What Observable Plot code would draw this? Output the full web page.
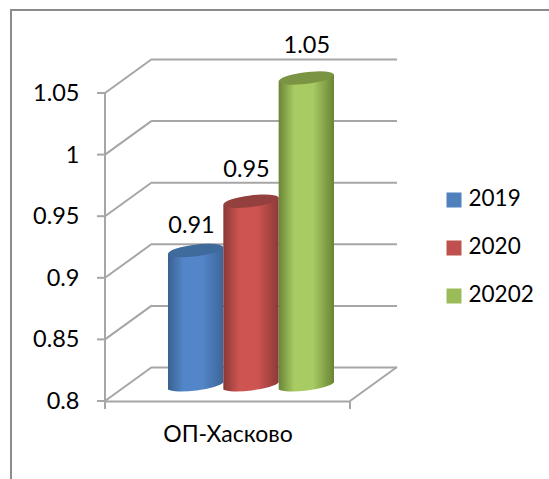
<!DOCTYPE html>
<html><head><meta charset="utf-8">
<script src="https://cdn.jsdelivr.net/npm/d3@7"></script>
<script src="https://cdn.jsdelivr.net/npm/@observablehq/plot@0.6"></script>
<style>
html,body{margin:0;padding:0;background:#fff}
#wrap{position:relative;width:549px;height:479px;overflow:hidden}
#border{position:absolute;left:10px;top:9px;width:600px;height:520px;border:2px solid #8c8c8c;box-sizing:border-box}
#chart{position:absolute;left:0;top:0}
</style></head><body>
<div id="wrap"><div id="border"></div><div id="chart"></div></div>
<script>
const category = "ОП-Хасково";
const years = ["2019","2020","20202"];
const values = [0.91,0.95,1.05];
const tickValues = [0.8,0.85,0.9,0.95,1,1.05];
const tickLabels = ["0.8","0.85","0.9","0.95","1","1.05"];
const swatch = ["#4f81bd","#c0504d","#9bbb59"];
const bodyStops = [["#39618f","#5286c8","#3c6699"],["#8a3836","#cd5450","#8c3a38"],["#6a8436","#a8cb63","#6a8436"]];
const capFill = ["#3e6a9c","#94403e","#7a9443"];
const data = years.map((year,i)=>({year,value:values[i],i}));

const font = "Lato, Carlito, 'Open Sans', sans-serif";
const depthX = 47, depthY = -34, grey = "#a6a6a6";
const fs = 23.5;

function box(index, {y}, channels, {width, height, marginLeft, marginRight}) {
  const g = d3.create("svg:g").attr("stroke", grey).attr("stroke-width", 2).attr("fill", "none");
  const L = marginLeft, R = width - marginRight;
  const yb = y(0.8), yt = y(1.05);
  g.append("line").attr("x1",L).attr("x2",L).attr("y1",yt).attr("y2",yb+8);
  g.append("line").attr("x1",R).attr("x2",R).attr("y1",yb).attr("y2",yb+8);
  for (const t of tickValues) {
    g.append("line").attr("x1",L).attr("x2",L+depthX).attr("y1",y(t)).attr("y2",y(t)+depthY);
    g.append("line").attr("x1",L-8).attr("x2",L).attr("y1",y(t)).attr("y2",y(t));
  }
  g.append("line").attr("x1",R).attr("x2",R+depthX).attr("y1",yb).attr("y2",yb+depthY);
  return g.node();
}

function cylinders(index, scales, values, dims, context, next) {
  const g = next(index, scales, values, dims, context);
  const sel = d3.select(g);
  const defs = sel.append("defs");
  const tilt = 3.5, ry = 5.8, lift = 15;
  sel.selectAll("rect").each(function(_, k) {
    const r = d3.select(this);
    const i = index[k];
    const x = +r.attr("x"), w = +r.attr("width"), t = +r.attr("y") - lift, h = +r.attr("height");
    const id = "cyl"+i;
    const gr = defs.append("linearGradient").attr("id",id);
    [[0,0],[0.28,1],[0.62,1],[1,2]].forEach(([o,c])=>gr.append("stop").attr("offset",o).attr("stop-color",bodyStops[i][c]));
    const rx = w/2, b = t+h;
    const body = `M${x},${t+tilt}L${x},${b+tilt}A${rx+1},${ry} -7 0 0 ${x+w},${b-tilt}L${x+w},${t-tilt}Z`;
    const parent = d3.select(this.parentNode);
    parent.append("path").attr("d",body).attr("fill",`url(#${id})`);
    parent.append("ellipse").attr("cx",x+w/2).attr("cy",t).attr("rx",rx+0.2).attr("ry",ry)
      .attr("transform",`rotate(-7 ${x+w/2} ${t})`).attr("fill",capFill[i]);
    r.remove();
  });
  return g;
}

const chart = Plot.plot({
  width: 549, height: 479,
  marginLeft: 105, marginRight: 199, marginTop: 93, marginBottom: 78,
  style: {background:"transparent", fontFamily: font},
  x: {type:"band", domain: years, range:[168,334], padding:0, round:false, axis:null},
  y: {domain:[0.8,1.05], range:[401,93]},
  marks: [
    Plot.ruleY(tickValues, {dx:depthX, dy:depthY, stroke:grey, strokeWidth:2}),
    Plot.ruleY([0.8], {stroke:grey, strokeWidth:2}),
    box,
    Plot.axisY({ticks:tickValues, tickFormat:(d,i)=>tickLabels[i], tickSize:0, tickPadding:26, fontSize:fs, fill:"#000", fontFamily:font, label:null}),
    Plot.barY(data, {x:"year", y1:()=>0.8, y2:"value", insetLeft:0, insetRight:0, render:cylinders}),
    Plot.text(data.filter(d=>d.i==0), {x:"year", y:"value", text:d=>String(d.value), dx:-4.7, dy:-40.5, fontSize:fs, fill:"#000"}),
    Plot.text(data.filter(d=>d.i==1), {x:"year", y:"value", text:d=>String(d.value), dx:-5, dy:-47, fontSize:fs, fill:"#000"}),
    Plot.text(data.filter(d=>d.i==2), {x:"year", y:"value", text:d=>String(d.value), dy:-48, fontSize:fs, fill:"#000"}),
    Plot.text([category], {frameAnchor:"bottom", dy:40, fontSize:23, fill:"#000", fontFamily:"Lato, 'Open Sans', sans-serif"}),
    ...years.map((year,i)=>Plot.dot([year], {frameAnchor:"left", dx:348.5, dy:-47.5+48*i, symbol:"square", r:8.46, fill:swatch[i], stroke:"none"})),
    ...years.map((year,i)=>Plot.text([year], {frameAnchor:"left", dx:363, dy:-48.5+48*i, textAnchor:"start", fontSize:22.5, fill:"#000"})),
  ]
});
document.getElementById("chart").append(chart);
</script></body></html>
